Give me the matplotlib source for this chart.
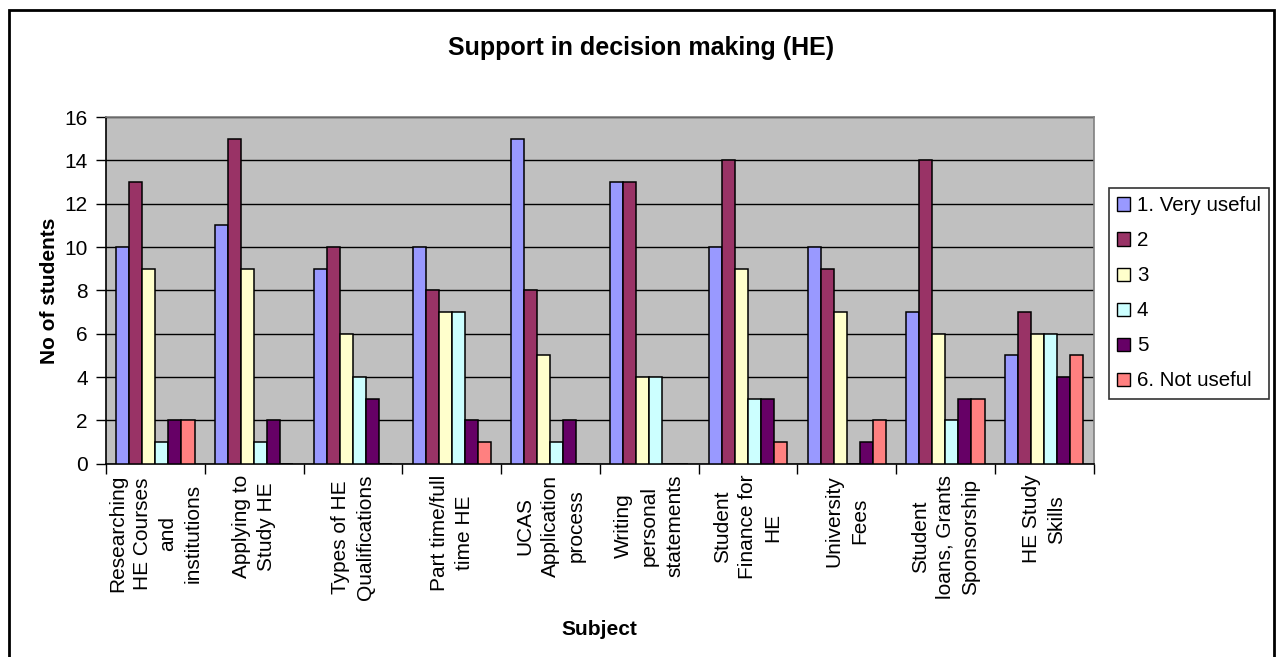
import matplotlib.pyplot as plt
from matplotlib.patches import Rectangle
import numpy as np

plt.rcParams['font.family'] = ['Liberation Sans', 'DejaVu Sans']

# Subjects on the x axis (line breaks as shown under each group)
subjects = [
    "Researching\nHE Courses\nand\ninstitutions",
    "Applying to\nStudy HE",
    "Types of HE\nQualifications",
    "Part time/full\ntime HE",
    "UCAS\nApplication\nprocess",
    "Writing\npersonal\nstatements",
    "Student\nFinance for\nHE",
    "University\nFees",
    "Student\nloans, Grants\nSponsorship",
    "HE Study\nSkills",
]

# Number of students giving each rating, per subject
very_useful = [10, 11, 9, 10, 15, 13, 10, 10, 7, 5]
rating_2 = [13, 15, 10, 8, 8, 13, 14, 9, 14, 7]
rating_3 = [9, 9, 6, 7, 5, 4, 9, 7, 6, 6]
rating_4 = [1, 1, 4, 7, 1, 4, 3, 0, 2, 6]
rating_5 = [2, 2, 3, 2, 2, 0, 3, 1, 3, 4]
not_useful = [2, 0, 0, 1, 0, 0, 1, 2, 3, 5]

series_names = ["1. Very useful", "2", "3", "4", "5", "6. Not useful"]
series = [very_useful, rating_2, rating_3, rating_4, rating_5, not_useful]
colors = ["#9999FF", "#993366", "#FFFFCC", "#CCFFFF", "#660066", "#FF8080"]

fig = plt.figure(figsize=(12.82, 6.57), dpi=100)
ax = fig.add_axes([0.0827, 0.2942, 0.7703, 0.5277])
ax.set_facecolor("#C0C0C0")

x = np.arange(len(subjects))
bar_w = 0.132
for i, (vals, name, col) in enumerate(zip(series, series_names, colors)):
    offset = (i - 2.5) * bar_w
    ax.bar(x + offset, vals, width=bar_w, color=col, edgecolor="black",
           linewidth=1.1, label=name, zorder=3)

ax.set_xlim(-0.5, len(subjects) - 0.5)
ax.set_ylim(0, 16)
ax.set_yticks(range(0, 17, 2))
ax.yaxis.grid(True, color="black", linewidth=1.0, zorder=1)
ax.set_axisbelow(True)

# category labels at centres, tick marks at group boundaries
ax.set_xticks(x)
ax.set_xticklabels(subjects, rotation=90, va="top", ha="center",
                   multialignment="center", linespacing=1.42)
ax.set_xticks(np.arange(-0.5, len(subjects)), minor=True)
ax.tick_params(axis="x", which="major", length=0, pad=8, labelsize=15)
ax.tick_params(axis="x", which="minor", length=7, width=1.0, direction="out")
ax.tick_params(axis="y", length=7, width=1.0, direction="out", pad=6, labelsize=15)

for side in ("left", "bottom"):
    ax.spines[side].set_color("black")
    ax.spines[side].set_linewidth(1.2)
for side in ("top", "right"):
    ax.spines[side].set_color("#808080")
    ax.spines[side].set_linewidth(1.2)

ax.set_ylabel("No of students", fontsize=15, fontweight="bold", labelpad=4)
ax.set_xlabel("Subject", fontsize=15, fontweight="bold", labelpad=14)

fig.text(0.5, 1 - 48 / 657, "Support in decision making (HE)", ha="center",
         va="center", fontsize=18, fontweight="bold")

leg = fig.legend(loc="upper left", bbox_to_anchor=(1109 / 1282, 1 - 188 / 657),
                 fontsize=14.8, frameon=True, fancybox=False, edgecolor="black",
                 handlelength=0.6, handleheight=0.6, handletextpad=0.35,
                 labelspacing=0.78, borderpad=0.4, borderaxespad=0)
leg.get_frame().set_linewidth(1.2)
for h in leg.legend_handles:
    h.set_linewidth(1.0)

# outer chart border
fig.patches.append(Rectangle((9 / 1282, -0.02), (1274 - 9) / 1282, 0.02 + 1 - 10 / 657,
                             transform=fig.transFigure, fill=False,
                             edgecolor="black", linewidth=2))

fig.savefig("out.png", dpi=100)
